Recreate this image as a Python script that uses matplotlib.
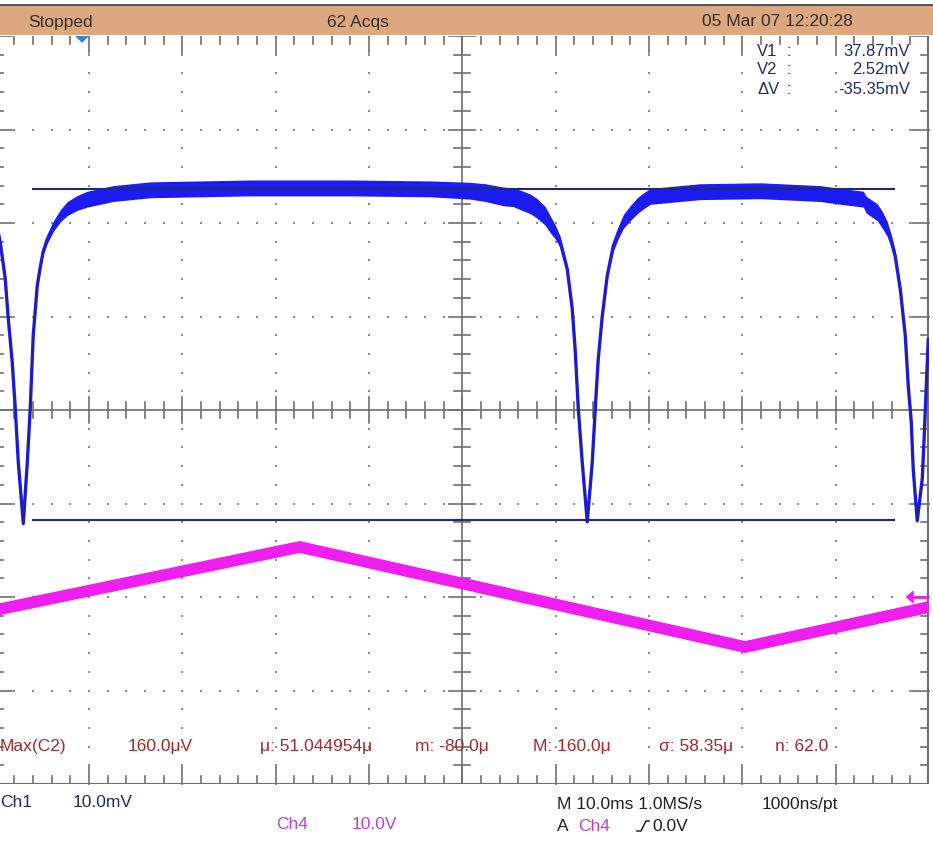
import numpy as np
import matplotlib
matplotlib.use("Agg")
import matplotlib.pyplot as plt
from matplotlib.patches import Rectangle, Polygon
from matplotlib.lines import Line2D

W, H = 933, 854
FONT = "Liberation Sans"

# channel 1 trace (time in ms, level in mV), with half-width of the noise band
ch1_t = [-50.0, -49.49, -48.96, -48.63, -48.21, -47.88, -47.56, -47.02, -46.59, -46.28,
         -45.96, -45.53, -45.21, -44.89, -44.46, -43.81, -43.07, -42.31, -41.24, -40.17,
         -38.78, -37.39, -33.42, -22.71, -12.0, -3.43, 0.86, 2.46, 4.39, 5.46,
         6.53, 7.28, 8.03, 8.89, 9.43, 9.96, 10.5, 11.25, 11.78, 12.11,
         12.43, 12.85, 13.39, 13.93, 14.25, 14.57, 15.0, 15.53, 16.18, 16.71,
         17.25, 17.99, 18.75, 19.39, 20.14, 25.5, 31.92, 38.35, 40.5, 42.96,
         43.28, 44.46, 44.99, 45.53, 45.96, 46.38, 46.92, 47.46, 47.78, 48.1,
         48.31, 48.74, 49.28, 49.49, 49.71, 49.92]
ch1_mv = [34.7, 32.2, 28.3, 24.0, 19.4, 14.4, 8.7, 2.1, 8.7, 14.4,
          22.2, 27.5, 29.5, 31.2, 32.5, 33.9, 35.0, 35.8, 36.4, 36.8,
          37.1, 37.4, 37.8, 38.0, 38.0, 37.9, 37.7, 37.5, 37.1, 37.0,
          36.6, 36.3, 35.8, 35.0, 34.1, 33.3, 32.2, 29.3, 25.1, 20.5,
          14.4, 8.7, 2.3, 8.7, 14.4, 19.7, 24.3, 28.6, 31.8, 33.2,
          34.4, 35.3, 36.1, 36.6, 37.1, 37.6, 37.7, 37.4, 37.1, 36.8,
          36.2, 35.4, 34.6, 33.6, 32.3, 30.7, 27.2, 22.2, 16.8, 13.0,
          7.9, 2.4, 6.9, 11.5, 16.8, 21.8]
ch1_spread = [0.25, 0.25, 0.25, 0.25, 0.25, 0.2, 0.2, 0.2, 0.2, 0.2,
              0.2, 0.2, 0.3, 0.35, 0.45, 0.55, 0.65, 0.75, 0.8, 0.85,
              0.85, 0.85, 0.85, 0.85, 0.85, 0.85, 0.9, 0.95, 1.0, 1.0,
              1.05, 1.05, 1.05, 1.0, 0.9, 0.75, 0.6, 0.4, 0.2, 0.2,
              0.2, 0.2, 0.2, 0.2, 0.2, 0.2, 0.2, 0.35, 0.55, 0.65,
              0.75, 0.8, 0.85, 0.85, 0.85, 0.85, 0.85, 0.85, 0.85, 0.85,
              0.9, 0.9, 0.9, 0.8, 0.7, 0.6, 0.4, 0.2, 0.2, 0.2,
              0.2, 0.2, 0.2, 0.2, 0.2, 0.2]

# channel 4 triangle sweep (time in ms, volts)
ch4_t = [-50.0, -17.4, 30.3, 50.0]
ch4_v = [-1.4, 5.35, -5.35, -1.07]
ch4_spread = 0.64

# cursors (mV)
v1 = 37.87
v2 = 2.52

# scope settings
ch1_scale, ch1_pos = 10.0, -1.425   # mV/div, div
ch4_scale, ch4_pos = 10.0, -2.0     # V/div, div
time_scale = 10.0                   # ms/div

meas_labels = ["Max(C2)", "160.0\u03bcV", "\u03bc: 51.044954\u03bc", "m: -80.0\u03bc",
               "M: 160.0\u03bc", "\u03c3: 58.35\u03bc", "n: 62.0"]
meas_x = [0, 128, 260, 415, 533, 659, 775]

NAVY = "#1f2a78"
BLUE = "#1c1cf2"
MAGENTA = "#ee1ff0"
GRID = "#8a8a8a"
RED = "#a8282c"


def fx(x):
    return x / W


def fy(y):
    return 1 - y / H


fig = plt.figure(figsize=(W / 100, H / 100), dpi=100)
fig.patch.set_facecolor("white")

# graticule axes: 10 x 8 divisions
ax = fig.add_axes([fx(-4.5), fy(785), 933.5 / W, 748 / H])
ax.set_xlim(-5, 5)
ax.set_ylim(-4, 4)
ax.axis("off")

# dotted grid
minor = np.round(np.arange(-5, 5.01, 0.2), 3)
minor_y = np.round(np.arange(-4, 4.01, 0.2), 3)
for gx in range(-4, 5):
    if gx == 0:
        continue
    ax.scatter(np.full(len(minor_y), gx), minor_y, s=1.6, color=GRID, marker="s", lw=0)
for gy in range(-3, 4):
    if gy == 0:
        continue
    ax.scatter(minor, np.full(len(minor), gy), s=1.6, color=GRID, marker="s", lw=0)

# centre cross with tick marks
ax.axhline(0, color="#6e6e6e", lw=1.2)
ax.axvline(0, color="#6e6e6e", lw=1.2)
px_x = 10 / 933.5
px_y = 8 / 748
for m in minor:
    half = 13 if abs(m - round(m)) < 1e-6 else 8
    ax.plot([m, m], [-half * px_y, half * px_y], color="#6e6e6e", lw=1.2)
    # edge ticks top and bottom
    ln = 17 if abs(m - round(m)) < 1e-6 else 8
    ax.plot([m, m], [4, 4 - ln * px_y], color="#6e6e6e", lw=1.2)
    ax.plot([m, m], [-4, -4 + ln * px_y], color="#6e6e6e", lw=1.2)
for m in minor_y:
    half = 13 if abs(m - round(m)) < 1e-6 else 8
    ax.plot([-half * px_x, half * px_x], [m, m], color="#6e6e6e", lw=1.2)
    ln = 17 if abs(m - round(m)) < 1e-6 else 8
    ax.plot([5, 5 - ln * px_x], [m, m], color="#6e6e6e", lw=1.2)
    ax.plot([-5, -5 + ln * px_x], [m, m], color="#6e6e6e", lw=1.2)

# frame
ax.plot([-5, 5], [-4, -4], color="#6e6e6e", lw=1.5)
ax.plot([4.99, 4.99], [-4, 4], color="#6e6e6e", lw=1.5)

# channel 4 triangle
t4 = np.array(ch4_t) / time_scale
y4 = np.array(ch4_v) / ch4_scale + ch4_pos
sp4 = ch4_spread / ch4_scale
ax.fill_between(t4, y4 - sp4, y4 + sp4, color=MAGENTA, lw=0, zorder=3)

# channel 1 trace: dark core, blue halo, noise band on top
t1 = np.array(ch1_t) / time_scale
y1 = np.array(ch1_mv) / ch1_scale + ch1_pos
sp1 = np.array(ch1_spread) / ch1_scale
ax.plot(t1, y1, color=BLUE, lw=2.4, zorder=3)
ax.plot(t1, y1, color="#22227a", lw=0.9, zorder=3.5)
ax.fill_between(t1, y1 - sp1, y1 + sp1, color=BLUE, lw=0, zorder=4)

# cursor lines
for v in (v1, v2):
    ax.plot([-4.6, 4.62], [v / ch1_scale + ch1_pos] * 2, color=NAVY, lw=1.5, zorder=5)

# trigger level arrow on the right edge
trig = ch4_pos
ax.plot([4.8, 5.0], [trig, trig], color=MAGENTA, lw=2, zorder=5)
ax.add_patch(Polygon([[4.76, trig], [4.83, trig + 0.06], [4.83, trig - 0.06]],
                     closed=True, color=MAGENTA, zorder=5))

# status bar
fig.patches.append(Rectangle((0, fy(36)), 1, 30 / H, transform=fig.transFigure,
                             facecolor="#dca882", edgecolor="none"))
fig.lines.append(Line2D([0, 1], [fy(6), fy(6)], transform=fig.transFigure,
                        color="#3a3a3a", lw=1.2))


def label(x, y, s, color, ha="left", size=12.5):
    fig.text(fx(x), fy(y), s, ha=ha, va="center", color=color,
             fontsize=size, family=[FONT, "DejaVu Sans"])


label(28, 22, "Stopped", "#3b2d20")
label(327, 22, "62 Acqs", "#3b2d20")
label(702, 22, "05 Mar 07 12:20:28", "#3b2d20")

# trigger position marker
fig.patches.append(Polygon([[fx(75), fy(37)], [fx(89), fy(37)], [fx(82), fy(44)]],
                           closed=True, transform=fig.transFigure,
                           facecolor="#2a8ad0", edgecolor="none"))

# cursor readouts
for i, (name, val) in enumerate([("V1", v1), ("V2", v2), ("\u0394V", v2 - v1)]):
    yy = 51 + i * 19
    label(757, yy, name, NAVY, size=12)
    label(786, yy, ":", NAVY, size=12)
    label(910, yy, f"{val:.2f}mV", NAVY, ha="right", size=12)

# measurement row
for s, x in zip(meas_labels, meas_x):
    label(x, 747, s, RED)

# channel and timebase readouts
label(0, 803, "Ch1", NAVY)
label(73, 803, "10.0mV", NAVY)
label(276, 825, "Ch4", "#c040c8")
label(352, 825, "10.0V", "#c040c8")
label(557, 805, "M 10.0ms 1.0MS/s", "#202020")
label(762, 805, "1000ns/pt", "#202020")
label(557, 827, "A", "#202020")
label(578, 827, "Ch4", "#c040c8")
fig.lines.append(Line2D([fx(637), fx(641), fx(646), fx(649)],
                        [fy(832), fy(832), fy(822), fy(822)],
                        transform=fig.transFigure, color="#202020", lw=1.1))
label(652, 827, "0.0V", "#202020")

fig.savefig("out.png", dpi=100, facecolor="white")
